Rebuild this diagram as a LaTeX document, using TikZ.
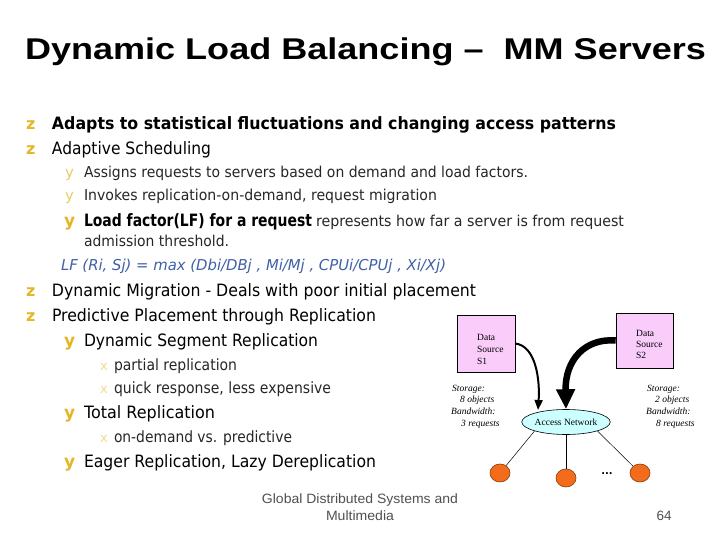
\documentclass[tikz,border=0pt]{standalone}
\usepackage{fontspec}
\usepackage{graphicx}
\setmainfont{DejaVu Sans}
\newfontfamily\titlef{Liberation Sans}
\newfontfamily\serf{Liberation Serif}
\usetikzlibrary{arrows.meta,shapes.geometric}
\definecolor{bulA}{RGB}{228,182,38}
\definecolor{bulB}{RGB}{232,205,100}
\definecolor{bulC}{RGB}{238,222,140}
\definecolor{lfblue}{RGB}{64,96,168}
\definecolor{boxpink}{RGB}{250,204,250}
\definecolor{netcyan}{RGB}{204,255,255}
\definecolor{dotorange}{RGB}{242,108,28}
\definecolor{dotedge}{RGB}{140,60,10}
\definecolor{footgray}{RGB}{80,80,80}
\newcommand\fw[2]{\resizebox{#1pt}{\height}{#2}}
\begin{document}
\begin{tikzpicture}[x=1pt,y=-1pt,
  txt/.style={anchor=base west,inner sep=0pt,outer sep=0pt},
  bigt/.style={txt,font=\fontsize{17}{20}\selectfont},
  smallt/.style={txt,font=\fontsize{15}{18}\selectfont,text=black!85},
  lvthree/.style={txt,font=\fontsize{15.5}{18}\selectfont,text=black!85},
  bulz/.style={txt,font=\fontsize{16}{20}\selectfont\bfseries,text=bulA},
  buly/.style={txt,font=\fontsize{15}{18}\selectfont,text=bulB},
  bulyb/.style={txt,font=\fontsize{17}{20}\selectfont\bfseries,text=bulA},
  bulx/.style={txt,font=\fontsize{13}{16}\selectfont,text=bulC},
  srcbox/.style={draw=black,line width=0.6pt,fill=boxpink,minimum width=58pt,minimum height=57pt,inner sep=0pt},
  srctxt/.style={anchor=base west,inner sep=0pt,font=\serf\fontsize{9.5}{11}\selectfont},
  stor/.style={anchor=base west,inner sep=0pt,font=\serf\itshape\fontsize{9.5}{11}\selectfont},
  dot/.style={ellipse,draw=dotedge,line width=0.6pt,fill=dotorange,minimum width=20pt,minimum height=18pt,inner sep=0pt},
  wire/.style={draw=black,line width=0.5pt},
  foot/.style={anchor=base,inner sep=0pt,font=\titlef\fontsize{13.5}{16}\selectfont,text=footgray}]
\useasboundingbox[fill=white] (0,0) rectangle (720,540);

% title
\node[txt,font=\titlef\bfseries\fontsize{30}{34}\selectfont] (title) at (25,60)
  {\fw{681}{Dynamic Load Balancing –\ \ MM Servers}};

% bullets level 1
\node[bulz] (bz1) at (26,130) {z};
\node[bigt] (t1) at (52,130) {\fw{564}{\bfseries Adapts to statistical fluctuations and changing access patterns}};
\node[bulz] (bz2) at (26,155) {z};
\node[bigt] (t2) at (52,155) {\fw{159}{Adaptive Scheduling}};

\node[buly] (by1) at (65,178) {y};
\node[smallt] (t3) at (84,178) {\fw{444}{Assigns requests to servers based on demand and load factors.}};
\node[buly] (by2) at (65,201) {y};
\node[smallt] (t4) at (84,201) {\fw{353}{Invokes replication-on-demand, request migration}};
\node[bulyb] (by3) at (64,226) {y};
\node[bigt] (t5a) at (84,226) {\fw{228}{\bfseries Load factor(LF) for a request}};
\node[smallt] (t5b) at (316,226) {\fw{308}{represents how far a server is from request}};
\node[smallt] (t6) at (84,246) {\fw{145}{admission threshold.}};
\node[txt,font=\fontsize{15}{18}\selectfont\itshape,text=lfblue] (t7) at (61,270)
  {\fw{385}{LF (Ri, Sj) = max (Dbi/DBj , Mi/Mj , CPUi/CPUj , Xi/Xj)}};

\node[bulz] (bz3) at (26,296) {z};
\node[bigt] (t8) at (52,296) {\fw{424}{Dynamic Migration - Deals with poor initial placement}};
\node[bulz] (bz4) at (26,321) {z};
\node[bigt] (t9) at (52,321) {\fw{324}{Predictive Placement through Replication}};

\node[bulyb] (by4) at (64,346) {y};
\node[bigt] (t10) at (84,346) {\fw{234}{Dynamic Segment Replication}};
\node[bulx] (bx1) at (100,370) {x};
\node[lvthree] (t11) at (114,370) {\fw{123}{partial replication}};
\node[bulx] (bx2) at (100,393) {x};
\node[lvthree] (t12) at (114,393) {\fw{217}{quick response, less expensive}};
\node[bulyb] (by5) at (64,418) {y};
\node[bigt] (t13) at (84,418) {\fw{131}{Total Replication}};
\node[bulx] (bx3) at (100,442) {x};
\node[lvthree] (t14) at (114,442) {\fw{178}{on-demand vs. predictive}};
\node[bulyb] (by6) at (64,467) {y};
\node[bigt] (t15) at (84,467) {\fw{292}{Eager Replication, Lazy Dereplication}};

% footer
\node[foot] (f1) at (360,503) {\fw{196}{Global Distributed Systems and}};
\node[foot] (f2) at (360,520) {\fw{68}{Multimedia}};
\node[foot] (pg) at (664,520) {64};

% diagram
\node[srcbox] (s1) at (486,343.5) {};
\node[srctxt] (s1a) at (477,340) {Data};
\node[srctxt] (s1b) at (477,352) {Source};
\node[srctxt] (s1c) at (477,364) {S1};
\node[srcbox,minimum height=55pt,minimum width=57pt] (s2) at (644.5,340.5) {};
\node[srctxt] (s2a) at (636,336) {Data};
\node[srctxt] (s2b) at (636,347) {Source};
\node[srctxt] (s2c) at (636,358) {S2};

\node[stor] (l1) at (452,391) {Storage:};
\node[stor] (l2) at (460,402) {8 objects};
\node[stor] (l3) at (451,414) {Bandwidth:};
\node[stor] (l4) at (461,426) {3 requests};
\node[stor] (r1) at (647,391) {Storage:};
\node[stor] (r2) at (655,402) {2 objects};
\node[stor] (r3) at (646,414) {Bandwidth:};
\node[stor] (r4) at (656,426) {8 requests};

\node[ellipse,draw=black,line width=0.6pt,fill=netcyan,minimum width=82pt,minimum height=25pt,inner sep=0pt,
  font=\serf\fontsize{9.5}{11}\selectfont] (net) at (566,422) {Access Network};

\node[dot] (c1) at (500,473) {};
\node[dot] (c2) at (566,478) {};
\node[dot] (c3) at (640,473) {};
\node[inner sep=0pt,font=\bfseries\fontsize{10}{12}\selectfont] (dots) at (607,474) {...};

\draw[wire] (net.south west) -- (c1);
\draw[wire] (net.south) -- (c2);
\draw[wire] (net.south east) -- (c3);

\coordinate (t1end) at (538,410);
\draw[line width=2pt,-{Triangle[width=8pt,length=10pt]}] (s1.east) .. controls (536,346) and (540,380) .. (t1end);
\draw[line width=6.5pt,-{Triangle[width=18pt,length=20pt]}] (s2.west) .. controls (585,338) and (565,360) .. (net.north);
\end{tikzpicture}
\end{document}
